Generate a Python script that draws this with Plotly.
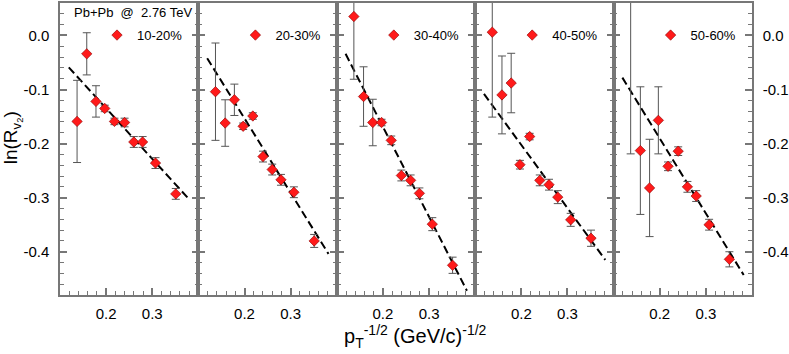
import plotly.graph_objects as go
from plotly.subplots import make_subplots

centralities = ["10-20%", "20-30%", "30-40%", "40-50%", "50-60%"]

# pT^-1/2 values (same bins in every panel)
x_pt = [0.137, 0.158, 0.178, 0.197, 0.218, 0.240, 0.260, 0.279, 0.307, 0.351]

# ln(R_v2) and errors per centrality
y_10_20 = [-0.159, -0.034, -0.122, -0.135, -0.159, -0.161, -0.197, -0.197, -0.236, -0.293]
e_10_20 = [0.076, 0.039, 0.029, 0.006, 0.006, 0.008, 0.010, 0.010, 0.010, 0.010]
y_20_30 = [-0.104, -0.162, -0.119, -0.168, -0.149, -0.224, -0.248, -0.267, -0.290, -0.380]
e_20_30 = [0.090, 0.043, 0.029, 0.006, 0.006, 0.010, 0.010, 0.010, 0.010, 0.012]
y_30_40 = [0.035, -0.113, -0.161, -0.161, -0.194, -0.259, -0.268, -0.292, -0.349, -0.425]
e_30_40 = [0.116, 0.055, 0.043, 0.006, 0.008, 0.010, 0.010, 0.010, 0.012, 0.015]
y_40_50 = [0.006, -0.110, -0.088, -0.239, -0.187, -0.268, -0.276, -0.299, -0.341, -0.375]
e_40_50 = [0.157, 0.072, 0.055, 0.008, 0.006, 0.010, 0.010, 0.012, 0.012, 0.015]
y_50_60 = [0.100, -0.213, -0.282, -0.157, -0.242, -0.214, -0.280, -0.297, -0.350, -0.414]
e_50_60 = [0.319, 0.118, 0.090, 0.062, 0.008, 0.008, 0.010, 0.010, 0.010, 0.014]

# linear fits (end points)
fit_x = [0.119, 0.382]
fit_10_20 = [-0.059, -0.305]
fit_20_30 = [-0.042, -0.404]
fit_30_40 = [-0.034, -0.472]
fit_40_50 = [-0.108, -0.415]
fit_50_60 = [-0.078, -0.443]

y_ticks = [0.0, -0.1, -0.2, -0.3, -0.4]
y_ticktext = ["0.0", "-0.1", "-0.2", "-0.3", "-0.4"]
x_ticks = [0.2, 0.3]
x_ticktext = ["0.2", "0.3"]

ys = [y_10_20, y_20_30, y_30_40, y_40_50, y_50_60]
errs = [e_10_20, e_20_30, e_30_40, e_40_50, e_50_60]
fits = [fit_10_20, fit_20_30, fit_30_40, fit_40_50, fit_50_60]

FONT = "Liberation Sans, Arial, sans-serif"
AXCOL = "#777777"

fig = make_subplots(rows=1, cols=5, shared_yaxes=True, horizontal_spacing=0)

W_PLOT = 692.0
for i in range(5):
    col = i + 1
    lg = "legend" if i == 0 else f"legend{col}"
    fig.add_trace(
        go.Scatter(
            x=fit_x,
            y=fits[i],
            mode="lines",
            line=dict(color="black", width=2, dash="8px,4px"),
            showlegend=False,
            hoverinfo="skip",
        ),
        row=1,
        col=col,
    )
    fig.add_trace(
        go.Scatter(
            x=x_pt,
            y=ys[i],
            mode="markers",
            name=centralities[i],
            legend=lg,
            marker=dict(symbol="diamond", size=8, color="#ff1a1a",
                        line=dict(color="#8a0000", width=0.6)),
            error_y=dict(type="data", array=errs[i], color="#555555",
                         thickness=1, width=4),
        ),
        row=1,
        col=col,
    )
    fig.layout[lg] = dict(
        x=(37 + 138.4 * i) / W_PLOT,
        y=0.89,
        xanchor="left",
        yanchor="middle",
        bgcolor="rgba(0,0,0,0)",
        borderwidth=0,
        font=dict(family=FONT, size=13, color="black"),
    )

fig.update_xaxes(
    range=[0.1, 0.4],
    tickmode="array",
    tickvals=x_ticks,
    ticktext=x_ticktext,
    ticks="inside",
    ticklen=7,
    tickcolor=AXCOL,
    tickwidth=1.5,
    minor=dict(tickmode="linear", tick0=0.1, dtick=0.02, ticks="inside",
               ticklen=4, tickcolor=AXCOL, tickwidth=1.2),
    showline=True,
    linecolor=AXCOL,
    linewidth=1.5,
    mirror=True,
    showgrid=False,
    zeroline=False,
    tickfont=dict(family=FONT, size=15, color="black"),
    ticklabelstandoff=4,
    automargin=False,
)
fig.update_yaxes(
    range=[-0.48, 0.06],
    tickmode="array",
    tickvals=y_ticks,
    ticktext=y_ticktext,
    ticks="inside",
    ticklen=7,
    tickcolor=AXCOL,
    tickwidth=1.5,
    minor=dict(tickmode="linear", tick0=0.0, dtick=0.02, ticks="inside",
               ticklen=4, tickcolor=AXCOL, tickwidth=1.2),
    showline=True,
    linecolor=AXCOL,
    linewidth=1.5,
    mirror="allticks",
    showgrid=False,
    zeroline=False,
    tickfont=dict(family=FONT, size=15, color="black"),
    ticklabelstandoff=6,
    automargin=False,
)
fig.update_layout(yaxis5=dict(side="right", showticklabels=True))

fig.add_annotation(
    text="Pb+Pb\u00a0\u00a0@\u00a0\u00a02.76 TeV",
    xref="paper", yref="paper", x=0.1062, y=0.966,
    xanchor="center", yanchor="middle", showarrow=False,
    font=dict(family=FONT, size=13, color="black"),
)
fig.add_annotation(
    text="ln(R<sub>v<sub>2</sub></sub>)",
    xref="paper", yref="paper", x=-0.068, y=0.54,
    xanchor="center", yanchor="middle", textangle=-90, showarrow=False,
    font=dict(family=FONT, size=19, color="black"),
)
fig.add_annotation(
    text="p<sub>T</sub><sup>-1/2</sup> (GeV/c)<sup>-1/2</sup>",
    xref="paper", yref="paper", x=0.514, y=-0.142,
    xanchor="center", yanchor="middle", showarrow=False,
    font=dict(family=FONT, size=20, color="black"),
)

fig.update_layout(
    width=789,
    height=354,
    margin=dict(l=60, r=37, t=3, b=59),
    paper_bgcolor="white",
    plot_bgcolor="white",
    font=dict(family=FONT, color="black"),
)

# the page body has a default 8px margin; drop it so the figure sits at 0,0
fig.write_html(
    "out.html",
    config={"displayModeBar": False},
    post_script="document.body.style.margin='0';",
)
